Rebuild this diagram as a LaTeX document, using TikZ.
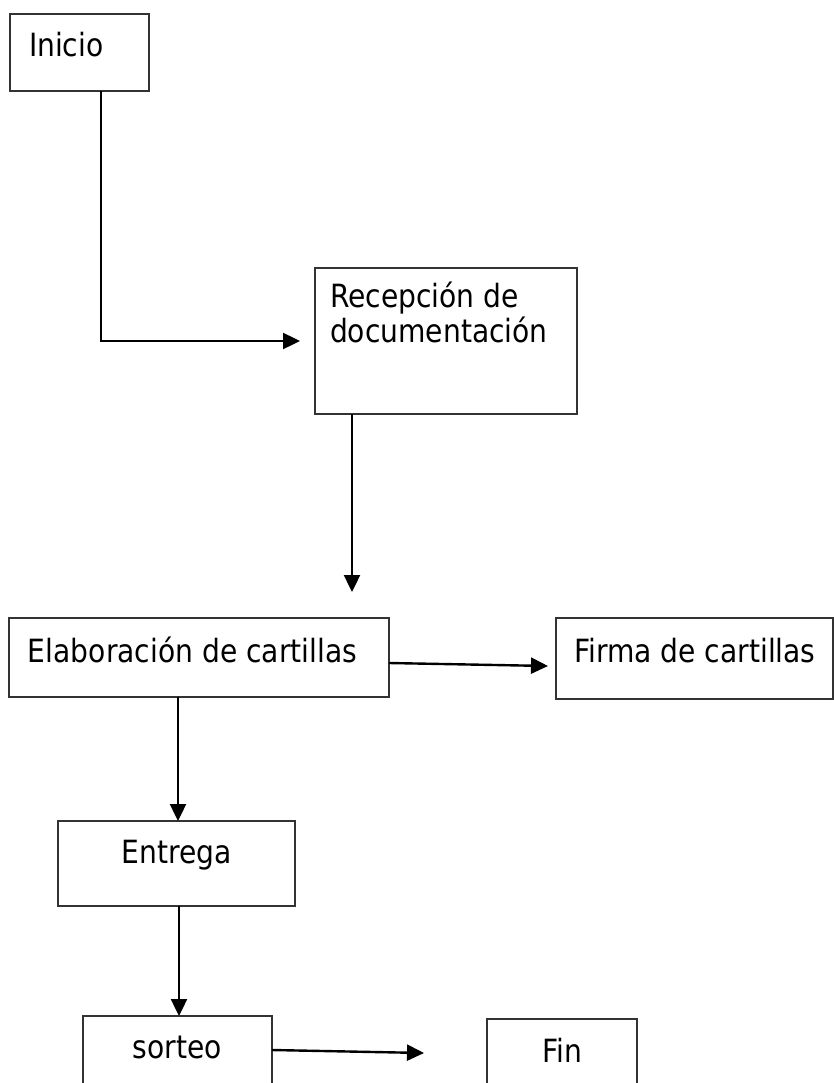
\documentclass[tikz,border=0pt]{standalone}
\usepackage{fontspec}
\setmainfont{DejaVu Sans}[FakeStretch=0.88]
\usetikzlibrary{arrows.meta,calc}
\newcommand{\bxl}[5]{\parbox[t][#2][t]{#1}{\fontsize{32pt}{35pt}\selectfont\raggedright\leftskip=#3\parindent=0pt\rule{0pt}{#4}#5}}
\newcommand{\bxc}[4]{\parbox[t][#2][t]{#1}{\fontsize{32pt}{35pt}\selectfont\centering\parindent=0pt\rule{0pt}{#3}#4}}
\tikzset{
  bx/.style={draw=black!80, line width=1.2pt, inner sep=0pt, outer sep=0pt, anchor=north west},
  arr/.style={line width=2.4pt, -{Triangle[length=17pt,width=16pt]}}
}
\begin{document}
\begin{tikzpicture}[x=1pt,y=-1pt]
\useasboundingbox (0,0) rectangle (834,1083);
\clip (0,0) rectangle (834,1083);
\node[bx] (ini) at (10,14) {\bxl{139pt}{77pt}{19pt}{43pt}{Inicio}};
\node[bx] (rec) at (315,268) {\bxl{262pt}{146pt}{15pt}{39pt}{Recepción de\\documentación}};
\node[bx] (elab) at (9,618) {\bxl{380pt}{79pt}{19pt}{44pt}{Elaboración de cartillas}};
\node[bx] (fir) at (556,618) {\bxl{277pt}{81pt}{18pt}{44pt}{Firma de cartillas}};
\node[bx] (ent) at (58,821) {\bxc{237pt}{85pt}{42pt}{Entrega}};
\node[bx] (sor) at (83,1016) {\bxc{189pt}{90pt}{42pt}{sorteo}};
\node[bx] (fin) at (487,1019) {\bxc{150pt}{90pt}{43pt}{Fin}};
\coordinate (t1) at (300,341);
\coordinate (t2) at (352,592);
\coordinate (t3) at (548,666);
\coordinate (t4) at (424,1053);
\draw[arr] ($(ini.south west)+(91,0)$) |- (t1);
\draw[arr] (rec.south -| t2) -- (t2);
\draw[arr] ($(elab.north east)+(0,45)$) -- (t3);
\draw[arr] ($(elab.south west)+(169,0)$) -- ($(ent.north west)+(120,0)$);
\draw[arr] ($(ent.south west)+(121,0)$) -- ($(sor.north west)+(96,0)$);
\draw[arr] ($(sor.north east)+(0,34)$) -- (t4);
\end{tikzpicture}
\end{document}
